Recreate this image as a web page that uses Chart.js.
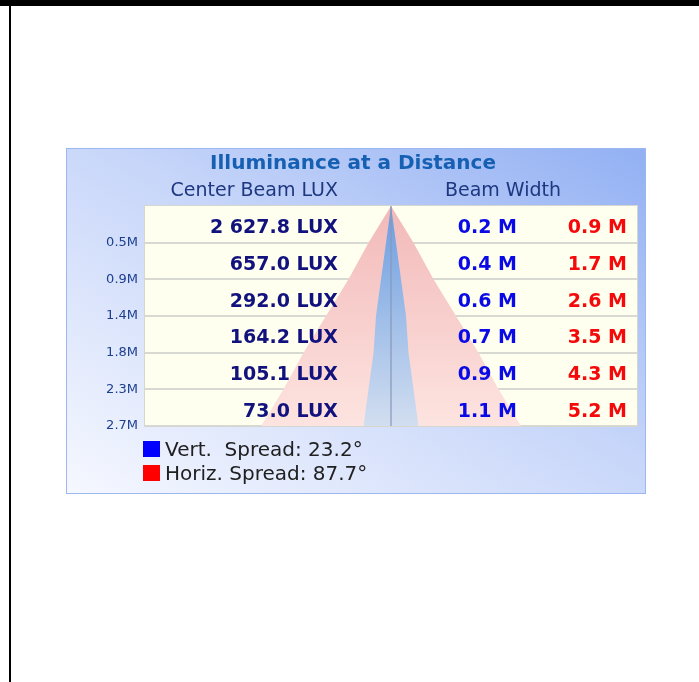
<!DOCTYPE html>
<html>
<head>
<meta charset="utf-8">
<script src="https://cdn.jsdelivr.net/npm/chart.js@4.4.1/dist/chart.umd.min.js"></script>
<style>
  html, body { margin: 0; padding: 0; background: #fff; }
  body { width: 699px; height: 682px; position: relative; overflow: hidden; }
  #topbar { position: absolute; left: 0; top: 0; width: 699px; height: 6px; background: #000; }
  #leftline { position: absolute; left: 9px; top: 0; width: 2px; height: 682px; background: #000; }
  #panel {
    position: absolute; left: 66px; top: 148px; width: 578px; height: 344px;
    border: 1px solid #9db7f2;
    background: linear-gradient(to top right, #f6f8ff 0%, #c6d5f9 55%, #92b0f3 100%);
  }
  #myChart { display: block; }
</style>
</head>
<body>
<div id="topbar"></div>
<div id="leftline"></div>
<div id="panel"><canvas id="myChart" width="578" height="344"></canvas></div>
<script>
// distances (metres) of each row boundary, and what the axis shows for them
const distances = [0.45, 0.9, 1.35, 1.8, 2.25, 2.7];
const distanceLabels = ['0.5M', '0.9M', '1.4M', '1.8M', '2.3M', '2.7M'];
const centerLux = [2627.8, 657.0, 292.0, 164.2, 105.1, 73.0];
const vertWidth = [0.2, 0.4, 0.6, 0.7, 0.9, 1.1];
const horizWidth = [0.9, 1.7, 2.6, 3.5, 4.3, 5.2];
const vertSpread = 23.2;
const horizSpread = 87.7;

const FONT = '"DejaVu Sans", sans-serif';
const maxDist = distances[distances.length - 1];

// beam outline: left edge bottom->top, apex, right edge top->bottom
function coneSide(widths) {
  const pts = [];
  for (let i = widths.length - 1; i >= 0; i--) pts.push({ x: -widths[i] / 2, y: distances[i] });
  pts.push({ x: 0, y: 0 });
  for (let i = 0; i < widths.length; i++) pts.push({ x: widths[i] / 2, y: distances[i] });
  return pts;
}

function vGradient(chart, top, bottom) {
  const area = chart.chartArea;
  if (!area) return top;
  const g = chart.ctx.createLinearGradient(0, area.top, 0, area.bottom);
  g.addColorStop(0, top);
  g.addColorStop(1, bottom);
  return g;
}

function luxText(v) {
  const parts = v.toFixed(1).split('.');
  return parts[0].replace(/\B(?=(\d{3})+(?!\d))/g, ' ') + '.' + parts[1] + ' LUX';
}

const textPlugin = {
  id: 'textPlugin',
  beforeDraw(chart) {
    const c = chart.ctx, a = chart.chartArea;
    c.save();
    c.fillStyle = '#fffff0';
    c.fillRect(a.left, a.top, a.right - a.left, a.bottom - a.top);
    c.restore();
  },
  afterDraw(chart) {
    const c = chart.ctx, a = chart.chartArea;
    const y = chart.scales.y;
    c.save();
    c.strokeStyle = '#d6d6d0';
    c.lineWidth = 1;
    c.strokeRect(a.left - 0.5, a.top - 0.5, a.right - a.left + 1, a.bottom - a.top + 1);

    // title and column headers
    c.textBaseline = 'middle';
    c.textAlign = 'center';
    c.fillStyle = '#1660b4';
    c.font = 'bold 20px ' + FONT;
    c.fillText('Illuminance at a Distance', chart.width / 2 - 3, 15);
    c.font = '19px ' + FONT;
    c.fillStyle = '#1d3780';
    c.textAlign = 'right';
    c.fillText('Center Beam LUX', a.left + 193, 42);
    c.textAlign = 'center';
    c.fillText('Beam Width', a.left + 358, 42);

    // row values
    c.font = 'bold 19px ' + FONT;
    c.textAlign = 'right';
    distances.forEach((d, i) => {
      const prev = i === 0 ? 0 : distances[i - 1];
      const ty = y.getPixelForValue((d + prev) / 2) + 4;
      c.fillStyle = '#12127e';
      c.fillText(luxText(centerLux[i]), a.left + 193, ty);
      c.fillStyle = '#0a0ae6';
      c.fillText(vertWidth[i].toFixed(1) + ' M', a.left + 372, ty);
      c.fillStyle = '#f40a0a';
      c.fillText(horizWidth[i].toFixed(1) + ' M', a.right - 10, ty);
    });

    // legend
    c.textAlign = 'left';
    c.font = '20px ' + FONT;
    const ly = a.bottom + 15;
    c.fillStyle = '#0000ff';
    c.fillRect(76, ly, 17, 16);
    c.fillStyle = '#ff0000';
    c.fillRect(76, ly + 24, 17, 16);
    c.fillStyle = '#202020';
    c.fillText('Vert.  Spread: ' + vertSpread.toFixed(1) + '\u00b0', 98, ly + 10);
    c.fillText('Horiz. Spread: ' + horizSpread.toFixed(1) + '\u00b0', 98, ly + 34);
    c.restore();
  }
};

const config = {
  type: 'scatter',
  data: {
    datasets: [
      {
        label: 'Center',
        data: [{ x: 0, y: 0 }, { x: 0, y: maxDist }],
        showLine: true,
        borderColor: 'rgba(140,155,185,0.55)',
        borderWidth: 1,
        pointRadius: 0,
        order: 1
      },
      {
        label: 'Vert.',
        data: coneSide(vertWidth),
        showLine: true,
        fill: { value: maxDist },
        backgroundColor: (ctx) => vGradient(ctx.chart, '#6a9ce0', '#d2def0'),
        borderWidth: 0,
        pointRadius: 0,
        order: 2
      },
      {
        label: 'Horiz.',
        data: coneSide(horizWidth),
        showLine: true,
        fill: { value: maxDist },
        backgroundColor: (ctx) => vGradient(ctx.chart, '#f2b9b9', '#fde4e0'),
        borderWidth: 0,
        pointRadius: 0,
        order: 3
      }
    ]
  },
  options: {
    responsive: false,
    animation: false,
    layout: { padding: { left: 0, right: 8, top: 57, bottom: 67 } },
    plugins: {
      legend: { display: false },
      tooltip: { enabled: false }
    },
    scales: {
      x: { type: 'linear', min: -4.92, max: 4.92, display: false },
      y: {
        type: 'linear',
        min: 0,
        max: maxDist,
        reverse: true,
        z: 1,
        afterFit: (scale) => { scale.width = 78; },
        afterBuildTicks: (scale) => { scale.ticks = distances.map(v => ({ value: v })); },
        border: { display: false },
        grid: { color: '#d9d9d4', lineWidth: 2, drawTicks: false },
        ticks: {
          padding: 7,
          color: '#1d3f8f',
          font: { family: FONT, size: 13 },
          callback: (value) => distanceLabels[distances.indexOf(value)]
        }
      }
    }
  },
  plugins: [textPlugin]
};

const myChart = new Chart(document.getElementById('myChart'), config);
</script>
</body>
</html>
